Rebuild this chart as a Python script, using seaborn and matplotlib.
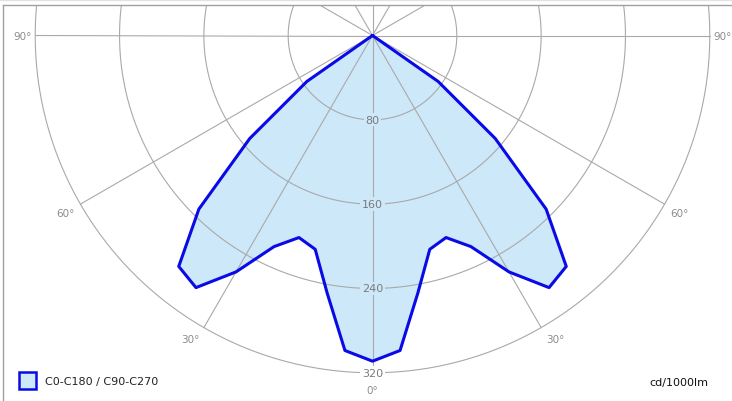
import numpy as np
import pandas as pd
import matplotlib
matplotlib.use("Agg")
import matplotlib.pyplot as plt
import seaborn as sns

# Luminous intensity (cd/1000lm) against gamma angle, symmetric about nadir
gamma_deg = [0, 5, 10, 15, 20, 25, 30, 35, 40, 45, 50, 55, 60]
intensity = [309, 300, 248, 210, 204, 221, 259, 292, 286, 233, 152, 76, 0]

ring_values = [80, 160, 240, 320]
ring_labels = ["80", "160", "240", "320"]
angle_marks = [0, 30, 60, 90]
angle_labels = ["0°", "30°", "60°", "90°"]
legend_label = "C0-C180 / C90-C270"
unit_label = "cd/1000lm"

W, H, DPI = 732, 402, 100
PX = 1.054          # pixels per cd
CX, CY = 372.5, 36.5  # pole position in pixels
LEFT, TOP = 3, 6      # frame edges in pixels

FILL = "#cde8f9"
LINE = "#0a0ae6"

sns.set_style("white")
plt.rcParams["font.family"] = ["DejaVu Sans"]

fig = plt.figure(figsize=(W / DPI, H / DPI), dpi=DPI)
ax = fig.add_axes([LEFT / W, 0, (W - LEFT) / W, (H - TOP) / H])
ax.set_xlim(-(CX - LEFT) / PX, (W - CX) / PX)
ax.set_ylim(-(H - CY) / PX, (CY - TOP) / PX)
ax.set_xticks([])
ax.set_yticks([])
for side in ("right", "bottom"):
    ax.spines[side].set_visible(False)
for side in ("top", "left"):
    ax.spines[side].set_color("#a0a0a0")
    ax.spines[side].set_linewidth(1.0)

grid_col = "#a9a9a9"

# full symmetric profile through the pole
g = np.array(gamma_deg, dtype=float)
v = np.array(intensity, dtype=float)
full_g = np.concatenate([-g[::-1], g[1:]])
full_v = np.concatenate([v[::-1], v[1:]])
gr = np.radians(full_g)
df = pd.DataFrame({"x": full_v * np.sin(gr), "y": -full_v * np.cos(gr)})

ax.fill(df["x"], df["y"], color=FILL, lw=0, zorder=0.5)

# concentric intensity rings
t = np.linspace(0, 2 * np.pi, 721)
for rv in ring_values:
    ax.plot(rv * np.sin(t), rv * np.cos(t), color=grid_col, lw=0.8, zorder=1)

# radial spokes every 30 degrees
for a in range(0, 360, 30):
    ar = np.radians(a)
    ax.plot([0, ring_values[-1] * np.sin(ar)], [0, -ring_values[-1] * np.cos(ar)],
            color=grid_col, lw=0.8, zorder=1)

# ring value labels along the nadir, boxed in the colour behind them
nadir_value = intensity[0]
for rv, lab in zip(ring_values, ring_labels):
    bg = FILL if rv < nadir_value else "white"
    ax.text(0, -rv, lab, ha="center", va="center", fontsize=8, color="#7a7a7a",
            zorder=2, bbox=dict(boxstyle="square,pad=0.15", fc=bg, ec="none"))

# angle labels on both sides
for a, lab in zip(angle_marks, angle_labels):
    shown = a + 1 if a == 30 else a
    label_r = 332 if a == 90 else 336
    ar = np.radians(shown)
    for s in ([1] if a == 0 else [-1, 1]):
        ax.text(s * label_r * np.sin(ar), -label_r * np.cos(ar), lab,
                ha="center", va="center", fontsize=7.5, color="#8c8c8c", zorder=2)

sns.lineplot(data=df, x="x", y="y", sort=False, estimator=None, ax=ax,
             color=LINE, lw=2.2, zorder=4, legend=False)
ax.set_xlabel("")
ax.set_ylabel("")

# legend swatch and captions
fig.patches.append(matplotlib.patches.Rectangle(
    (19 / W, (H - 390) / H), 17 / W, 17 / H, transform=fig.transFigure,
    fc=FILL, ec=LINE, lw=1.8))
fig.text(45 / W, (H - 382) / H, legend_label, ha="left", va="center",
         fontsize=8, color="#222222")
fig.text(708 / W, (H - 383) / H, unit_label, ha="right", va="center",
         fontsize=8, color="#111111")

# faint rule along the top edge
fig.add_artist(matplotlib.lines.Line2D([0, 1], [1 - 1 / H, 1 - 1 / H],
                                       transform=fig.transFigure,
                                       color="#e2e2e2", lw=1))

fig.savefig("out.png", dpi=DPI)
